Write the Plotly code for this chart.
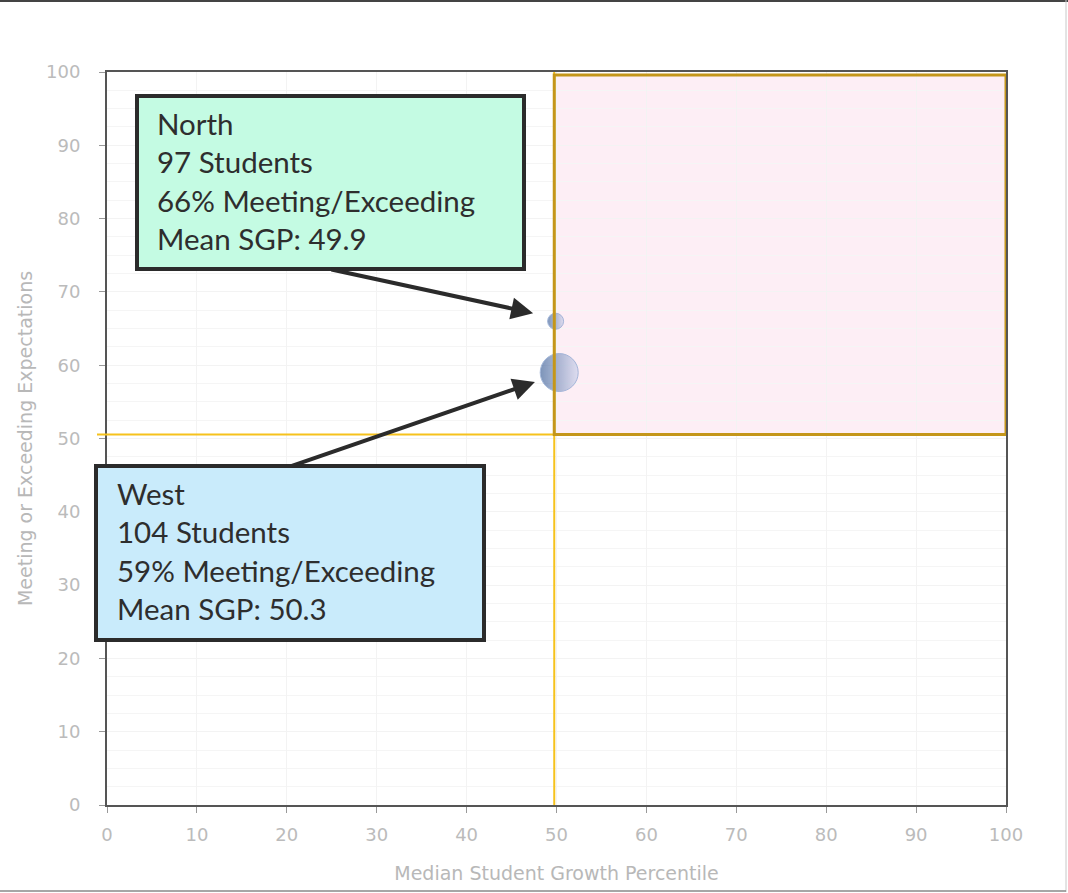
import plotly.graph_objects as go

# ---- data ----
regions = ["North", "West"]
median_sgp = [49.9, 50.3]
pct_meeting = [66, 59]
students = [97, 104]
mean_sgp = [49.9, 50.3]
x_ticks = [0, 10, 20, 30, 40, 50, 60, 70, 80, 90, 100]
y_ticks = [0, 10, 20, 30, 40, 50, 60, 70, 80, 90, 100]
growth_cut = 49.75
achieve_cut = 50.55

# ---- styling ----
bubble_px = [16, 38]
W, H = 1068, 893
ML, MR, MT, MB = 107, 62, 72, 88
PW, PH = W - ML - MR, H - MT - MB


def px_x(p):
    return (p - ML) / PW


def px_y(p):
    return (H - MB - p) / PH


fig = go.Figure()

fig.add_trace(go.Scatter(
    x=median_sgp, y=pct_meeting, mode="markers",
    text=regions,
    marker=dict(size=bubble_px, color="#46679c",
                gradient=dict(type="horizontal", color="#d2d6ee"),
                line=dict(color="#7f9ccc", width=1)),
    showlegend=False, hoverinfo="text",
))

shapes = []
# quadrant thresholds
shapes.append(dict(type="line", xref="x", yref="y", x0=growth_cut, x1=growth_cut, y0=0, y1=100,
                   line=dict(color="#f6c21c", width=2), layer="above"))
shapes.append(dict(type="line", xref="paper", yref="y", x0=px_x(97), x1=1, y0=achieve_cut, y1=achieve_cut,
                   line=dict(color="#f6c21c", width=2), layer="above"))
# target quadrant
shapes.append(dict(type="rect", xref="x", yref="y", x0=growth_cut, x1=100, y0=achieve_cut, y1=99.6,
                   fillcolor="#fdeef5", line=dict(width=0), layer="below"))
shapes.append(dict(type="rect", xref="x", yref="y", x0=growth_cut, x1=100, y0=achieve_cut, y1=99.6,
                   fillcolor="rgba(0,0,0,0)", line=dict(color="#c4961a", width=3), layer="above"))
# callout boxes
box_specs = [
    (137, 524, 96, 269, "#c4fbe3"),
    (96, 484, 466, 640, "#c9ebfb"),
]
for x0, x1, y0, y1, col in box_specs:
    shapes.append(dict(type="rect", xref="paper", yref="paper",
                       x0=px_x(x0), x1=px_x(x1), y0=px_y(y1), y1=px_y(y0),
                       fillcolor=col, line=dict(color="#2b2b2b", width=4), layer="above"))
# outer frame
shapes.append(dict(type="line", xref="paper", yref="paper", x0=px_x(0), x1=px_x(W), y0=px_y(1), y1=px_y(1),
                   line=dict(color="#444444", width=2)))
shapes.append(dict(type="line", xref="paper", yref="paper", x0=px_x(1066), x1=px_x(1066), y0=px_y(0), y1=px_y(892),
                   line=dict(color="#c8c8c8", width=1)))
shapes.append(dict(type="line", xref="paper", yref="paper", x0=px_x(0), x1=px_x(1066), y0=px_y(891), y1=px_y(891),
                   line=dict(color="#888888", width=1.5)))

annotations = []
# arrows
arrow_specs = [
    (24.8, 73.1, 47.4, 67.1),
    (20.4, 46.2, 47.6, 57.7),
]
for ax, ay, hx, hy in arrow_specs:
    annotations.append(dict(x=hx, y=hy, ax=ax, ay=ay, xref="x", yref="y", axref="x", ayref="y",
                            text="", showarrow=True, arrowhead=2, arrowsize=1.1, arrowwidth=4,
                            arrowcolor="#2b2b2b", standoff=0, startstandoff=0))
# callout texts
text_pos = [(155, 104), (115, 474)]
for i, (tx, ty) in enumerate(text_pos):
    txt = (f"{regions[i]}<br>{students[i]} Students<br>{pct_meeting[i]}% Meeting/Exceeding"
           f"<br>Mean SGP: {mean_sgp[i]}")
    annotations.append(dict(x=px_x(tx), y=px_y(ty), xref="paper", yref="paper",
                            xanchor="left", yanchor="top", align="left", showarrow=False,
                            text=txt, font=dict(family="Lato", size=29.5, color="#2e2e2e")))

axis_common = dict(
    range=[0, 100], showline=True, linecolor="#555555", linewidth=2, mirror=True,
    ticks="outside", ticklen=6, tickcolor="#999999", tickwidth=1,
    tickfont=dict(family="DejaVu Sans", size=18, color="#bbbbbb"),
    showgrid=True, gridcolor="#f3f3f3", gridwidth=1, zeroline=False,
)

fig.update_layout(
    width=W, height=H,
    margin=dict(l=ML, r=MR, t=MT, b=MB),
    paper_bgcolor="white", plot_bgcolor="white",
    xaxis=dict(**axis_common, tickvals=x_ticks, ticklabelstandoff=6,
               title=dict(text="Median Student Growth Percentile",
                          font=dict(family="DejaVu Sans", size=19, color="#b8b8b8"), standoff=23)),
    yaxis=dict(**axis_common, tickvals=y_ticks, ticklabelstandoff=15,
               minor=dict(dtick=2.5, showgrid=True, gridcolor="#f5f5f5"),
               title=dict(text="Meeting or Exceeding Expectations",
                          font=dict(family="DejaVu Sans", size=19, color="#b8b8b8"), standoff=8)),
    shapes=shapes, annotations=annotations,
)

fig.write_html("out.html", config={"displayModeBar": False},
               post_script="document.body.style.margin='0';document.body.style.padding='0';")
